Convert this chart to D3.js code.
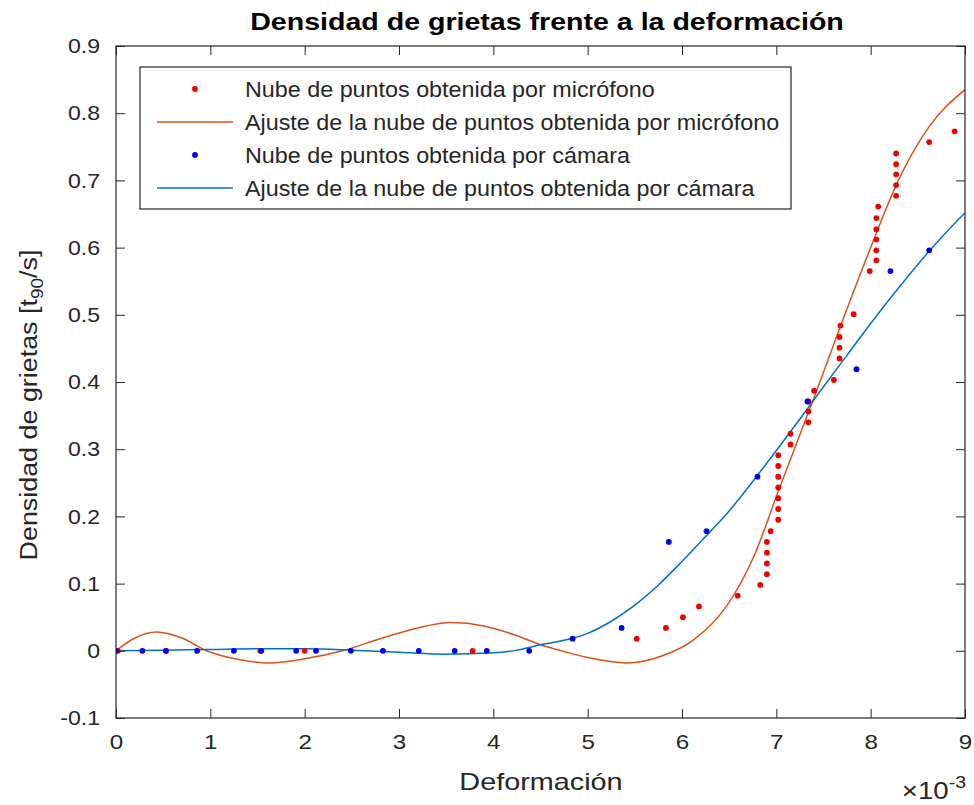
<!DOCTYPE html>
<html>
<head>
<meta charset="utf-8">
<script src="https://cdn.jsdelivr.net/npm/d3@7"></script>
<style>
  body { margin: 0; background: #fff; }
  svg { font-family: "Liberation Sans", Arial, Helvetica, sans-serif; }
</style>
</head>
<body>
<svg id="chart" width="974" height="805"></svg>
<script>
// deformacion (x1e-3) vs densidad de grietas

// nube de puntos - microfono
const micX = [0.02, 0.53, 1.53, 2.00, 3.78, 5.52, 5.83, 6.01, 6.18, 6.59, 6.83, 6.90, 6.90, 6.90, 6.90, 6.94,
  7.02, 7.02, 7.02, 7.02, 7.02, 7.02, 7.02, 7.15, 7.15, 7.34, 7.34, 7.34, 7.40, 7.61,
  7.67, 7.67, 7.67, 7.68, 7.82, 7.99, 8.06, 8.06, 8.06, 8.06, 8.06, 8.08, 8.27, 8.27, 8.27, 8.27, 8.27, 8.62, 8.89]
const micY = [0, 0, 0, 0, 0, 0.018, 0.034, 0.050, 0.066, 0.082, 0.098, 0.114, 0.130, 0.146, 0.162, 0.178,
  0.195, 0.211, 0.227, 0.243, 0.259, 0.275, 0.291, 0.307, 0.323, 0.340, 0.356, 0.371, 0.387, 0.403,
  0.435, 0.451, 0.467, 0.484, 0.501, 0.565, 0.581, 0.596, 0.612, 0.627, 0.644, 0.661, 0.677, 0.693, 0.709, 0.724, 0.740, 0.757, 0.773]

// ajuste - microfono
const micFitX = [0, 0.2, 0.43, 0.7, 0.96, 1.3, 1.63, 2.0, 2.4, 2.8, 3.2, 3.55, 3.9, 4.2, 4.5, 4.75, 5.0, 5.42,
  5.8, 6.12, 6.48, 6.76, 7.02, 7.43, 7.68, 8.0, 8.28, 8.62, 9.0]
const micFitY = [0, 0.019, 0.028, 0.019, 0, -0.013, -0.018, -0.012, 0, 0.018, 0.034, 0.042, 0.037, 0.025, 0.009, -0.001, -0.010, -0.018,
  -0.007, 0.016, 0.068, 0.140, 0.237, 0.388, 0.483, 0.600, 0.696, 0.780, 0.835]

// nube de puntos - camara
const camX = [0, 0.28, 0.53, 0.86, 1.25, 1.54, 1.91, 2.12, 2.49, 2.83, 3.21, 3.59, 3.93, 4.38,
  4.84, 5.36, 5.86, 6.26, 6.80, 7.33, 7.85, 8.21, 8.62]
const camY = [0, 0, 0, 0, 0, 0, 0, 0, 0, 0, 0, 0, 0, 0,
  0.018, 0.034, 0.162, 0.178, 0.259, 0.371, 0.419, 0.565, 0.596]

// ajuste - camara
const camFitX = [0, 0.5, 1.0, 1.5, 2.0, 2.5, 3.0, 3.5, 4.0, 4.25, 4.5, 4.85, 5.0, 5.25, 5.5, 5.75, 6.0, 6.25,
  6.5, 6.75, 7.0, 7.25, 7.5, 7.75, 8.0, 8.25, 8.5, 8.75, 9.0]
const camFitY = [0, 0.001, 0.002, 0.003, 0.003, 0.001, -0.002, -0.005, -0.003, 0.001, 0.009, 0.019, 0.026, 0.044, 0.068, 0.098, 0.133, 0.170,
  0.208, 0.252, 0.298, 0.345, 0.393, 0.440, 0.487, 0.532, 0.575, 0.615, 0.652]

const xTicks = [0, 1, 2, 3, 4, 5, 6, 7, 8, 9]
const yTicks = [-0.1, 0, 0.1, 0.2, 0.3, 0.4, 0.5, 0.6, 0.7, 0.8, 0.9]

const legendLabels = [
  'Nube de puntos obtenida por micrófono',
  'Ajuste de la nube de puntos obtenida por micrófono',
  'Nube de puntos obtenida por cámara',
  'Ajuste de la nube de puntos obtenida por cámara'
]

const axisColor = '#262626'
const redDot = '#f00000', redLine = '#d95319'
const blueDot = '#0000f0', blueLine = '#0072bd'

var svg = d3.select('#chart')
var mLeft = 116, mRight = 965, mTop = 46, mBottom = 718

var x = d3.scaleLinear().domain([0, 9]).range([mLeft, mRight])
var y = d3.scaleLinear().domain([-0.1, 0.9]).range([mBottom, mTop])

// the reference text is drawn a bit wider than Liberation Sans
function widen(sel, k) {
  sel.each(function () {
    var w = this.getComputedTextLength()
    d3.select(this).attr('textLength', w * k).attr('lengthAdjust', 'spacingAndGlyphs')
  })
}

svg.append('defs').append('clipPath').attr('id', 'clip')
  .append('rect')
    .attr('x', mLeft).attr('y', mTop)
    .attr('width', mRight - mLeft).attr('height', mBottom - mTop)

var plot = svg.append('g').attr('clip-path', 'url(#clip)')

var line = d3.line()
  .x(d => x(d[0]))
  .y(d => y(d[1]))
  .curve(d3.curveMonotoneX)

var micPts = d3.zip(micX, micY)
var camPts = d3.zip(camX, camY)

plot.append('path')
  .datum(d3.zip(micFitX, micFitY))
  .attr('d', line)
  .attr('fill', 'none')
  .attr('stroke', redLine)
  .attr('stroke-width', 1.5)

plot.append('path')
  .datum(d3.zip(camFitX, camFitY))
  .attr('d', line)
  .attr('fill', 'none')
  .attr('stroke', blueLine)
  .attr('stroke-width', 1.5)

plot.selectAll('circle.mic')
  .data(micPts)
  .enter()
  .append('circle')
    .attr('class', 'mic')
    .attr('cx', d => x(d[0]))
    .attr('cy', d => y(d[1]))
    .attr('r', 2.9)
    .attr('fill', redDot)

plot.selectAll('circle.cam')
  .data(camPts)
  .enter()
  .append('circle')
    .attr('class', 'cam')
    .attr('cx', d => x(d[0]))
    .attr('cy', d => y(d[1]))
    .attr('r', 2.9)
    .attr('fill', blueDot)

// axes, with inner ticks on all four sides
var fmtY = d => d === 0 ? '0' : d3.format('.1f')(d).replace('−', '-')

function styleAxis(g) {
  g.selectAll('.domain').remove()
  g.selectAll('.tick line').attr('stroke', axisColor)
  g.selectAll('.tick text')
    .attr('fill', axisColor)
    .style('font-size', '21px')
}

svg.append('g')
  .attr('transform', `translate(0,${mBottom})`)
  .call(d3.axisBottom(x).tickValues(xTicks).tickFormat(d3.format('d')).tickSizeInner(-9).tickPadding(16))
  .call(styleAxis)
  .call(g => widen(g.selectAll('.tick text'), 1.15))

svg.append('g')
  .attr('transform', `translate(0,${mTop})`)
  .call(d3.axisTop(x).tickValues(xTicks).tickFormat('').tickSizeInner(-9))
  .call(styleAxis)

svg.append('g')
  .attr('transform', `translate(${mLeft},0)`)
  .call(d3.axisLeft(y).tickValues(yTicks).tickFormat(fmtY).tickSizeInner(-9).tickPadding(16))
  .call(styleAxis)
  .call(g => widen(g.selectAll('.tick text'), 1.1))

svg.append('g')
  .attr('transform', `translate(${mRight},0)`)
  .call(d3.axisRight(y).tickValues(yTicks).tickFormat('').tickSizeInner(-9))
  .call(styleAxis)

svg.append('rect')
  .attr('x', mLeft).attr('y', mTop)
  .attr('width', mRight - mLeft).attr('height', mBottom - mTop)
  .attr('fill', 'none')
  .attr('stroke', axisColor)
  .attr('stroke-width', 1.2)

// title and labels
svg.append('text')
  .attr('x', 547)
  .attr('y', 30)
  .attr('text-anchor', 'middle')
  .attr('fill', '#000')
  .style('font-size', '24px')
  .style('font-weight', 'bold')
  .text('Densidad de grietas frente a la deformación')
  .call(t => widen(t, 1.19))

svg.append('text')
  .attr('x', 541)
  .attr('y', 790)
  .attr('text-anchor', 'middle')
  .attr('fill', axisColor)
  .style('font-size', '24px')
  .text('Deformación')
  .call(t => widen(t, 1.2))

var ylab = svg.append('g')
  .attr('transform', 'translate(37,405) rotate(-90) scale(1.12,1)')
  .append('text')
  .attr('text-anchor', 'middle')
  .attr('fill', axisColor)
  .style('font-size', '24px')
ylab.append('tspan').text('Densidad de grietas [t')
ylab.append('tspan').attr('dy', 6).style('font-size', '17px').text('90')
ylab.append('tspan').attr('dy', -6).text('/s]')

var expo = svg.append('g')
  .attr('transform', 'translate(966,799) scale(1.15,1)')
  .append('text')
  .attr('text-anchor', 'end')
  .attr('fill', axisColor)
  .style('font-size', '24px')
expo.append('tspan').text('×10')
expo.append('tspan').attr('dy', -11).style('font-size', '17px').text('-3')

// legend
var legend = svg.append('g')

legend.append('rect')
  .attr('x', 140).attr('y', 67)
  .attr('width', 651).attr('height', 142)
  .attr('fill', '#fff')
  .attr('stroke', axisColor)
  .attr('stroke-width', 1.2)

var rows = [89, 122, 155, 188]
var kinds = [
  {type: 'dot', color: redDot},
  {type: 'line', color: redLine},
  {type: 'dot', color: blueDot},
  {type: 'line', color: blueLine}
]

kinds.forEach(function (k, i) {
  if (k.type === 'dot') {
    legend.append('circle')
      .attr('cx', 195).attr('cy', rows[i])
      .attr('r', 2.9)
      .attr('fill', k.color)
  } else {
    legend.append('line')
      .attr('x1', 157).attr('x2', 233)
      .attr('y1', rows[i]).attr('y2', rows[i])
      .attr('stroke', k.color)
      .attr('stroke-width', 1.5)
  }
  legend.append('text')
    .attr('x', 245)
    .attr('y', rows[i] + 8)
    .attr('fill', axisColor)
    .style('font-size', '22px')
    .text(legendLabels[i])
    .call(t => widen(t, 1.06))
})
</script>
</body>
</html>
